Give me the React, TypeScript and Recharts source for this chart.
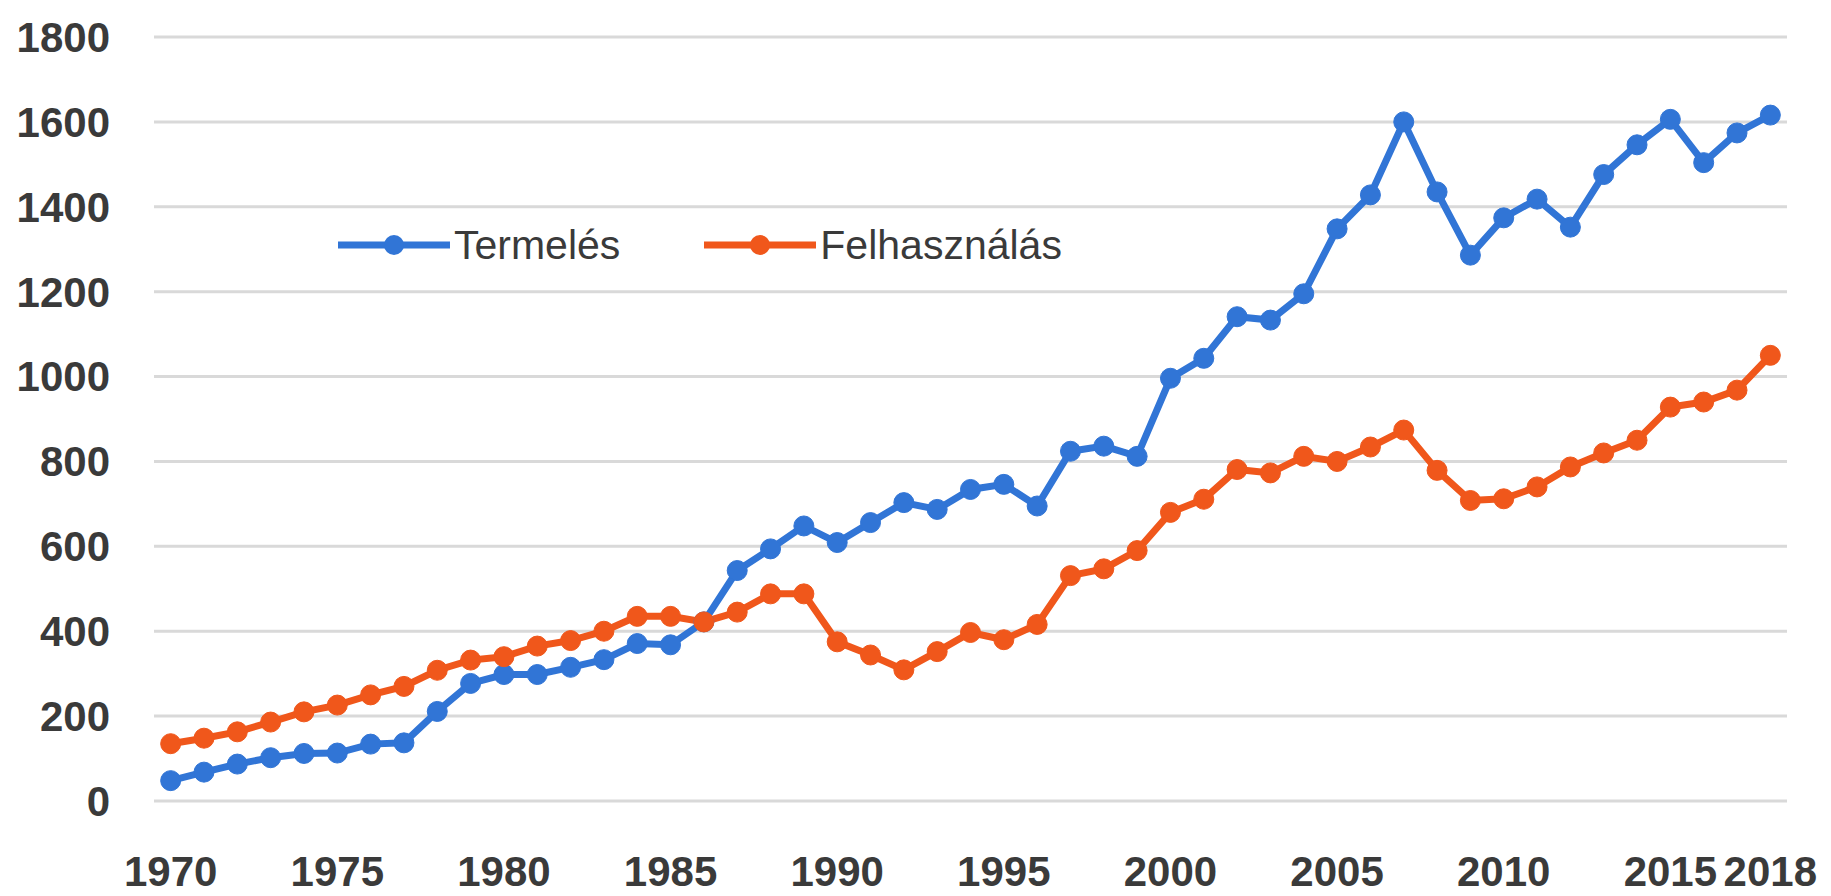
import { CartesianGrid, Line, LineChart, XAxis, YAxis } from "recharts";

const years = [
  1970, 1971, 1972, 1973, 1974, 1975, 1976, 1977, 1978, 1979, 1980, 1981,
  1982, 1983, 1984, 1985, 1986, 1987, 1988, 1989, 1990, 1991, 1992, 1993,
  1994, 1995, 1996, 1997, 1998, 1999, 2000, 2001, 2002, 2003, 2004, 2005,
  2006, 2007, 2008, 2009, 2010, 2011, 2012, 2013, 2014, 2015, 2016, 2017,
  2018,
];

const termeles = [
  48, 68, 87, 102, 112, 113, 134, 137, 211, 277, 298, 298, 315, 333, 371, 368,
  422, 543, 594, 648, 609, 656, 703, 687, 734, 746, 695, 824, 836, 812, 996,
  1043, 1141, 1133, 1195, 1348, 1428, 1600, 1435, 1286, 1374, 1418, 1352, 1476,
  1546, 1606, 1504, 1574, 1616,
];

const felhasznalas = [
  135, 148, 163, 186, 210, 226, 250, 270, 308, 332, 340, 365, 378, 400, 435,
  435, 422, 445, 488, 488, 375, 344, 309, 352, 397, 380, 416, 531, 547, 590,
  680, 711, 781, 773, 812, 800, 834, 874, 779, 708, 712, 740, 787, 820, 850,
  928, 940, 968, 1050,
];

const seriesKeys = ["termeles", "felhasznalas"];
const seriesNames = ["Termelés", "Felhasználás"];
const seriesColors = ["#3175D6", "#F0571B"];

const yTicks = [0, 200, 400, 600, 800, 1000, 1200, 1400, 1600, 1800];
const xTicks = [1970, 1975, 1980, 1985, 1990, 1995, 2000, 2005, 2010, 2015, 2018];

const chartData = years.map((year, i) => ({
  year,
  termeles: termeles[i],
  felhasznalas: felhasznalas[i],
}));

const font = "'Liberation Sans', Arial, sans-serif";
const textColor = "#3a3a3a";

function ChartLegend() {
  return (
    <div
      style={{
        position: "absolute",
        left: 338,
        top: 220,
        height: 50,
        display: "flex",
        alignItems: "center",
        fontFamily: font,
        fontSize: 41,
        color: textColor,
      }}
    >
      {seriesNames.map((name, i) => (
        <div
          key={name}
          style={{
            display: "flex",
            alignItems: "center",
            marginRight: i === 0 ? 84 : 0,
          }}
        >
          <svg width={112} height={30}>
            <line
              x1={0}
              y1={15}
              x2={112}
              y2={15}
              stroke={seriesColors[i]}
              strokeWidth={7}
            />
            <circle cx={56} cy={15} r={10} fill={seriesColors[i]} />
          </svg>
          <span style={{ marginLeft: 4, lineHeight: 1 }}>{name}</span>
        </div>
      ))}
    </div>
  );
}

export default function App() {
  return (
    <div
      style={{
        position: "absolute",
        left: 0,
        top: 0,
        width: 1831,
        height: 896,
        background: "#ffffff",
      }}
    >
      <LineChart
        width={1831}
        height={896}
        data={chartData}
        margin={{ top: 37, right: 44, bottom: 0, left: 0 }}
      >
        <CartesianGrid vertical={false} stroke="#d9d9d9" strokeWidth={3} />
        <XAxis
          dataKey="year"
          type="number"
          domain={[1969.5, 2018.5]}
          ticks={xTicks}
          interval={0}
          height={95}
          axisLine={false}
          tickLine={false}
          tickMargin={49}
          tick={{ fontFamily: font, fontSize: 42, fontWeight: 700, fill: textColor }}
        />
        <YAxis
          type="number"
          domain={[0, 1800]}
          ticks={yTicks}
          interval={0}
          width={154}
          axisLine={false}
          tickLine={false}
          tickMargin={38}
          tick={{ fontFamily: font, fontSize: 42, fontWeight: 700, fill: textColor }}
        />
        {seriesKeys.map((key, i) => (
          <Line
            key={key}
            dataKey={key}
            name={seriesNames[i]}
            type="linear"
            stroke={seriesColors[i]}
            strokeWidth={7}
            dot={{ r: 10, fill: seriesColors[i], stroke: seriesColors[i], strokeWidth: 1 }}
            activeDot={false}
            isAnimationActive={false}
          />
        ))}
      </LineChart>
      <ChartLegend />
    </div>
  );
}
